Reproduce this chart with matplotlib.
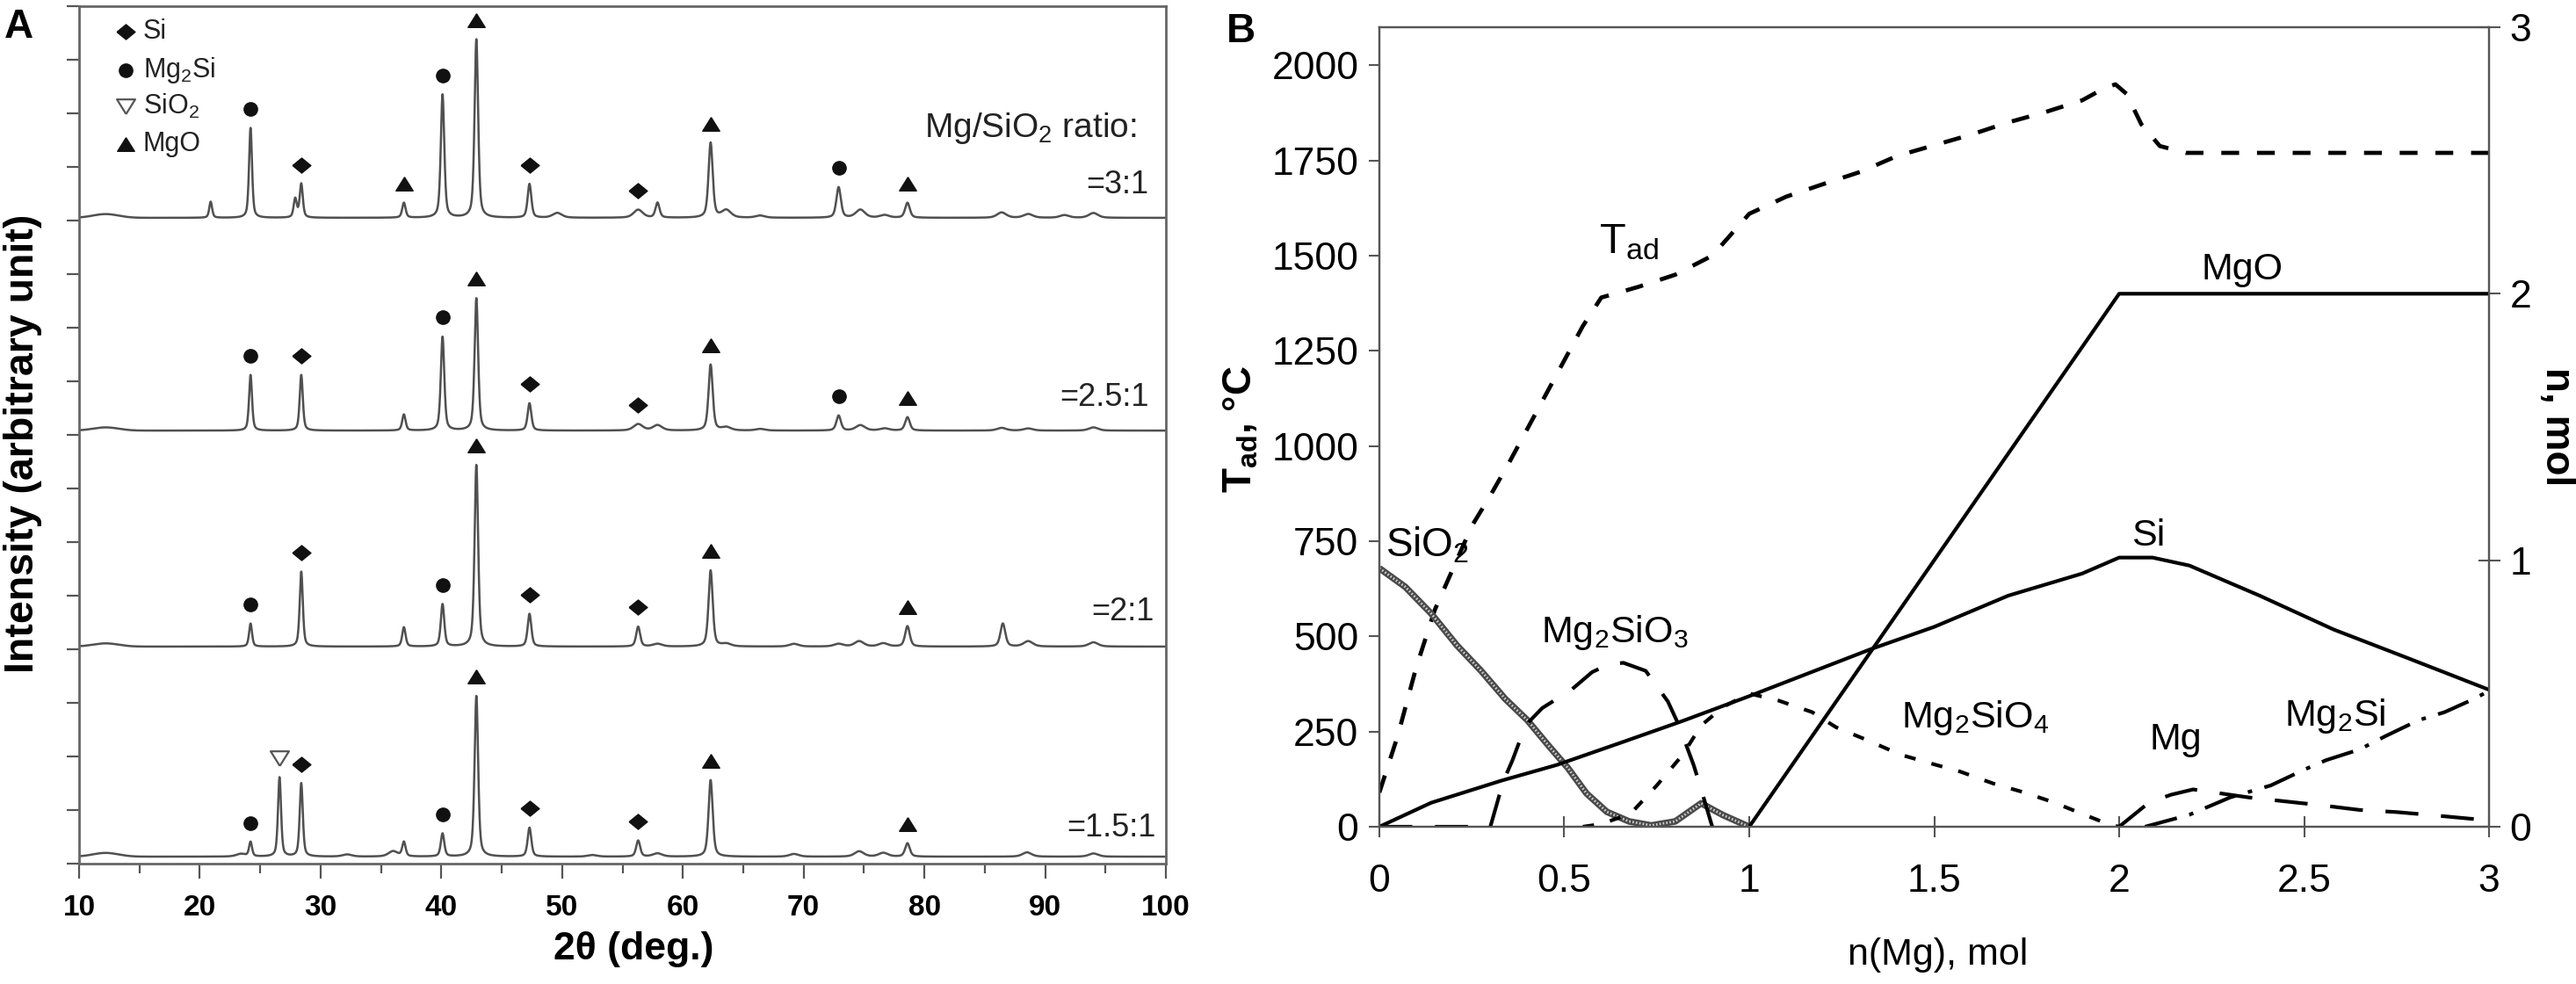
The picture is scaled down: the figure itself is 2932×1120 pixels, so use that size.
import numpy as np
import matplotlib
matplotlib.use("Agg")
import matplotlib.pyplot as plt
from matplotlib.path import Path

plt.rcParams['font.family'] = ['Liberation Sans', 'DejaVu Sans']
plt.rcParams['mathtext.default'] = 'regular'

# --- Panel A: XRD peaks: (2theta, height, phase) ---
ratio_labels = ['=3:1', '=2.5:1', '=2:1', '=1.5:1']
offsets = [12.05, 8.08, 4.05, 0.13]
hump = [0.07, 0.06, 0.06, 0.07]

peaks_3_1 = [(20.9, 0.30, None), (24.2, 1.68, 'Mg2Si'), (27.9, 0.35, None),
             (28.4, 0.63, 'Si'), (36.9, 0.28, 'MgO'), (40.1, 2.30, 'Mg2Si'),
             (42.9, 3.33, 'MgO'), (47.3, 0.63, 'Si'), (49.6, 0.09, None),
             (56.3, 0.15, 'Si'), (57.9, 0.28, None), (62.3, 1.40, 'MgO'),
             (63.6, 0.14, None), (66.4, 0.04, None), (72.9, 0.57, 'Mg2Si'),
             (74.7, 0.15, None), (76.7, 0.05, None), (78.6, 0.28, 'MgO'),
             (86.4, 0.10, None), (88.6, 0.07, None), (91.6, 0.05, None),
             (94.0, 0.09, None)]
peaks_2_5_1 = [(24.2, 1.04, 'Mg2Si'), (28.4, 1.04, 'Si'), (36.9, 0.30, None),
               (40.1, 1.75, 'Mg2Si'), (42.9, 2.47, 'MgO'), (47.3, 0.51, 'Si'),
               (56.3, 0.12, 'Si'), (57.9, 0.10, None), (62.3, 1.23, 'MgO'),
               (63.6, 0.06, None), (66.4, 0.03, None), (72.9, 0.28, 'Mg2Si'),
               (74.7, 0.10, None), (76.7, 0.04, None), (78.6, 0.25, 'MgO'),
               (86.4, 0.05, None), (88.6, 0.04, None), (94.0, 0.06, None)]
peaks_2_1 = [(24.2, 0.43, 'Mg2Si'), (28.4, 1.40, 'Si'), (36.9, 0.36, None),
             (40.1, 0.79, 'Mg2Si'), (42.9, 3.39, 'MgO'), (47.3, 0.61, 'Si'),
             (56.3, 0.37, 'Si'), (57.9, 0.05, None), (62.3, 1.42, 'MgO'),
             (63.6, 0.05, None), (69.2, 0.05, None), (72.9, 0.05, None),
             (74.6, 0.10, None), (76.6, 0.06, None), (78.6, 0.38, 'MgO'),
             (86.5, 0.43, None), (88.6, 0.10, None), (94.0, 0.08, None)]
peaks_1_5_1 = [(23.4, 0.05, None), (24.2, 0.27, 'Mg2Si'), (26.6, 1.48, 'SiO2'),
               (28.4, 1.37, 'Si'), (32.2, 0.04, None), (36.0, 0.10, None),
               (36.9, 0.27, None), (40.1, 0.43, 'Mg2Si'), (42.9, 3.00, 'MgO'),
               (47.3, 0.54, 'Si'), (52.5, 0.03, None), (56.3, 0.30, 'Si'),
               (57.9, 0.06, None), (62.3, 1.43, 'MgO'), (69.2, 0.05, None),
               (74.6, 0.10, None), (76.6, 0.07, None), (78.6, 0.25, 'MgO'),
               (88.5, 0.08, None), (94.0, 0.06, None)]
patterns = [peaks_3_1, peaks_2_5_1, peaks_2_1, peaks_1_5_1]

phases = ['Si', 'Mg2Si', 'SiO2', 'MgO']
phase_labels = ['Si', 'Mg$_2$Si', 'SiO$_2$', 'MgO']

# --- Panel B: thermodynamic curves ---
n_tad = [0, 0.05, 0.1, 0.15, 0.2, 0.25, 0.3, 0.35, 0.4, 0.45, 0.5, 0.55, 0.6,
         0.7, 0.8, 0.9, 0.95, 1.0, 1.1, 1.2, 1.3, 1.4, 1.5, 1.6, 1.7, 1.8,
         1.9, 1.96, 1.99, 2.02, 2.06, 2.11, 2.18, 3.0]
t_ad = [90, 240, 420, 570, 680, 790, 870, 955, 1045, 1135, 1225, 1315, 1390,
        1418, 1450, 1500, 1555, 1610, 1655, 1688, 1720, 1762, 1790, 1818,
        1850, 1877, 1908, 1940, 1950, 1925, 1845, 1788, 1770, 1770]

n_sio2 = [0, 0.07, 0.14, 0.21, 0.275, 0.34, 0.40, 0.46, 0.51, 0.56, 0.615,
          0.675, 0.735, 0.80, 0.87, 0.93, 1.0]
sio2 = [0.97, 0.90, 0.80, 0.68, 0.585, 0.48, 0.40, 0.30, 0.22, 0.125, 0.056,
        0.02, 0.005, 0.02, 0.088, 0.043, 0.0]

n_si = [0, 0.14, 0.33, 0.48, 0.65, 0.82, 1.0, 1.33, 1.5, 1.7, 1.9, 2.0, 2.09,
        2.19, 2.38, 2.58, 2.78, 3.0]
si = [0, 0.09, 0.173, 0.232, 0.314, 0.397, 0.49, 0.667, 0.75, 0.867, 0.95,
      1.01, 1.01, 0.98, 0.867, 0.74, 0.633, 0.514]

n_mgo = [1.0, 2.0, 3.0]
mgo = [0.0, 2.0, 2.0]

n_mg2sio3 = [0, 0.3, 0.335, 0.36, 0.395, 0.44, 0.52, 0.575, 0.62, 0.66, 0.72,
             0.78, 0.81, 0.85, 0.87, 0.9]
mg2sio3 = [0, 0, 0.17, 0.25, 0.38, 0.445, 0.515, 0.58, 0.61, 0.615, 0.585,
           0.47, 0.38, 0.23, 0.14, 0.0]

n_mg2sio4 = [0.55, 0.6, 0.68, 0.75, 0.82, 0.87, 0.93, 1.0, 1.08, 1.17, 1.235,
             1.31, 1.41, 1.5, 1.57, 1.66, 1.74, 1.82, 1.91, 1.97, 2.0]
mg2sio4 = [0, 0.01, 0.05, 0.155, 0.27, 0.38, 0.45, 0.5, 0.473, 0.43, 0.373,
           0.33, 0.27, 0.234, 0.207, 0.162, 0.13, 0.093, 0.043, 0.01, 0]

n_mg = [2.0, 2.08, 2.14, 2.2, 2.25, 2.35, 2.45, 2.55, 2.65, 2.75, 2.85, 2.95, 3.0]
mg = [0, 0.09, 0.12, 0.14, 0.13, 0.11, 0.095, 0.08, 0.063, 0.055, 0.043, 0.03, 0.025]

n_mg2si = [2.07, 2.19, 2.3, 2.41, 2.5, 2.56, 2.65, 2.72, 2.81, 2.88, 2.96, 3.0]
mg2si = [0, 0.045, 0.11, 0.155, 0.214, 0.25, 0.29, 0.34, 0.40, 0.43, 0.48, 0.51]


def xrd_trace(peaks, x, hump_h):
    y = hump_h * np.exp(-((x - 12.2) / 1.5) ** 2)
    for pos, h, _ in peaks:
        w = 0.28 + 0.003 * (pos - 20) if h >= 0.2 else 0.9
        u = (x - pos) / (w / 2)
        y = y + h * (0.5 / (1 + u ** 2) + 0.5 * np.exp(-np.log(2) * u ** 2))
    return y


diamond = Path([(-1, 0), (0, 0.82), (1, 0), (0, -0.82), (-1, 0)])
tri_up = Path([(0, 0.8), (-1, -0.8), (1, -0.8), (0, 0.8)])
tri_down = Path([(0, -0.8), (-1, 0.8), (1, 0.8), (0, -0.8)])
marker_style = {
    'Si': dict(marker=diamond, ms=15, mfc='#111', mec='#111'),
    'Mg2Si': dict(marker='o', ms=11, mfc='#111', mec='#111'),
    'SiO2': dict(marker=tri_down, ms=15, mfc='white', mec='#555', mew=1.6),
    'MgO': dict(marker=tri_up, ms=14, mfc='#111', mec='#111'),
}

W, H = 2932, 1120
fig = plt.figure(figsize=(W / 100, H / 100), dpi=100)

# ---------------- Panel A ----------------
axA = fig.add_axes([90 / W, 1 - 983 / H, (1327 - 90) / W, (983 - 7) / H])
x = np.linspace(10, 100, 6001)
for peaks, off, hh in zip(patterns, offsets, hump):
    axA.plot(x, off + xrd_trace(peaks, x, hh), color='#505050', lw=1.8)
    for pos, h, ph in peaks:
        if ph:
            axA.plot(pos, off + h + 0.36, ls='none', **marker_style[ph])

axA.set_xlim(10, 100)
axA.set_ylim(0, 16)
axA.set_xticks(range(10, 101, 10))
axA.set_xticks(range(15, 100, 10), minor=True)
axA.set_yticks(range(0, 17))
axA.set_yticklabels([])
axA.tick_params(axis='x', which='major', length=12, width=1.6, color='#555',
                labelsize=24, pad=13)
axA.tick_params(axis='x', which='minor', length=8, width=1.6, color='#555')
axA.tick_params(axis='y', length=10, width=1.6, color='#555')
for lab in axA.get_xticklabels():
    lab.set_fontweight('bold')
for s in axA.spines.values():
    s.set_color('#666')
    s.set_linewidth(2)

axA.text(0.51, -0.1004, '2θ (deg.)', transform=axA.transAxes, ha='center',
         va='center', fontsize=32, fontweight='bold')
axA.text(-0.0517, 0.49, 'Intensity (arbitrary unit)', transform=axA.transAxes,
         ha='center', va='center', rotation=90, fontsize=33.5, fontweight='bold')

legend_y = [0.970, 0.925, 0.883, 0.839]
for ph, lab, ly in zip(phases, phase_labels, legend_y):
    axA.plot(0.043, ly, transform=axA.transAxes, ls='none', clip_on=False,
             **marker_style[ph])
    axA.text(0.059, ly, lab, transform=axA.transAxes, va='center', fontsize=22,
             color='#222')

axA.text(97.6, 13.72, 'Mg/SiO$_2$ ratio:', ha='right', va='center', fontsize=28,
         color='#222')
for lab, (rx, ry) in zip(ratio_labels, [(98.6, 12.66), (98.6, 8.70),
                                        (99.0, 4.70), (99.15, 0.67)]):
    axA.text(rx, ry, lab, ha='right', va='center', fontsize=26, color='#222')

fig.text(5 / W, 1 - 9 / H, 'A', ha='left', va='top', fontsize=33,
         fontweight='bold')

# ---------------- Panel B ----------------
axB = fig.add_axes([1570 / W, 1 - 941 / H, (2833 - 1570) / W, (941 - 31) / H])
ax2 = axB.twinx()

axB.plot(n_tad, t_ad, color='k', lw=3.4, dashes=(4.3, 4.3))
ax2.plot(n_sio2, sio2, color='#4a4a4a', lw=5.4, solid_capstyle='butt')
ax2.plot(n_sio2, sio2, color='#cfcfcf', lw=2.0, ls=(0, (0.6, 0.8)))
ax2.plot(n_si, si, color='k', lw=3.0)
ax2.plot(n_mgo, mgo, color='k', lw=3.0)
ax2.plot(n_mg2sio3, mg2sio3, color='k', lw=3.0, dashes=(9, 6.2))
ax2.plot(n_mg2sio4, mg2sio4, color='k', lw=3.0, dashes=(3.1, 4.5))
ax2.plot(n_mg, mg, color='k', lw=3.0, dashes=(9, 6.2))
ax2.plot(n_mg2si, mg2si, color='k', lw=3.0, dashes=(9, 3.5, 1.2, 3.5))

axB.set_xlim(0, 3)
axB.set_ylim(0, 2100)
ax2.set_ylim(0, 3)
axB.set_xticks([0, 0.5, 1, 1.5, 2, 2.5, 3])
axB.set_xticklabels(['0', '0.5', '1', '1.5', '2', '2.5', '3'])
axB.set_yticks(range(0, 2001, 250))
ax2.set_yticks([0, 1, 2, 3])
axB.tick_params(axis='x', direction='inout', length=17, width=1.5, color='#555',
                labelsize=32, pad=22)
axB.tick_params(axis='y', direction='out', length=9, width=1.5, color='#555',
                labelsize=32, pad=8)
ax2.tick_params(axis='y', direction='inout', length=18, width=1.5, color='#555',
                labelsize=32, pad=8)
for a in (axB, ax2):
    for s in a.spines.values():
        s.set_color('#555')
        s.set_linewidth(1.6)

axB.text(0.5036, -0.160, 'n(Mg), mol', transform=axB.transAxes, ha='center',
         va='center', fontsize=31)
axB.text(-0.125, 0.497, 'T$_{ad}$, °C', transform=axB.transAxes, ha='center',
         va='center', rotation=90, fontsize=33, fontweight='bold')
axB.text(1 + 77 / 1263, 0.50, 'n, mol', transform=axB.transAxes, ha='center',
         va='center', rotation=-90, fontsize=33, fontweight='bold')

axB.text(0.594, 1506, 'T$_{ad}$', fontsize=35, va='baseline')
ax2.text(0.017, 1.015, 'SiO$_2$', fontsize=33, va='baseline')
ax2.text(0.437, 0.692, 'Mg$_2$SiO$_3$', fontsize=31, va='baseline')
ax2.text(1.411, 0.373, 'Mg$_2$SiO$_4$', fontsize=31, va='baseline')
ax2.text(2.221, 2.054, 'MgO', fontsize=31, va='baseline')
ax2.text(2.033, 1.055, 'Si', fontsize=31, va='baseline')
ax2.text(2.081, 0.29, 'Mg', fontsize=31, va='baseline')
ax2.text(2.447, 0.379, 'Mg$_2$Si', fontsize=31, va='baseline')

fig.text(1396 / W, 1 - 14 / H, 'B', ha='left', va='top', fontsize=33,
         fontweight='bold')

fig.savefig('out.png', dpi=100)
